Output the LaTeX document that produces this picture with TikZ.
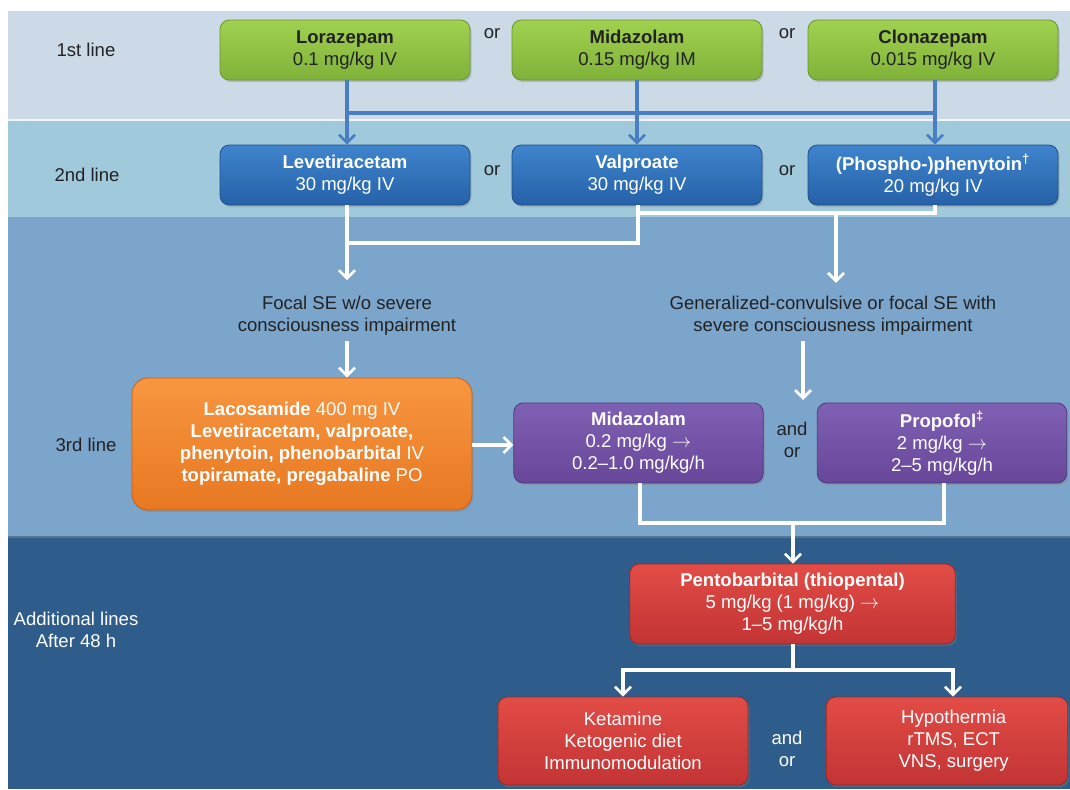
\documentclass[tikz,border=0pt]{standalone}
\usepackage{fontspec}
\setmainfont{Liberation Sans}
\usetikzlibrary{arrows.meta,shadows}
\definecolor{bandA}{HTML}{CCDAE8}
\definecolor{bandB}{HTML}{A0CADB}
\definecolor{bandC}{HTML}{7CA5CC}
\definecolor{bandD}{HTML}{2E5D8C}
\definecolor{gA}{HTML}{A2D150}
\definecolor{gB}{HTML}{7FB239}
\definecolor{gC}{HTML}{66962E}
\definecolor{bA}{HTML}{3E84CC}
\definecolor{bB}{HTML}{2661A8}
\definecolor{bC}{HTML}{1E4E88}
\definecolor{oA}{HTML}{F89640}
\definecolor{oB}{HTML}{E87822}
\definecolor{oC}{HTML}{C4621A}
\definecolor{pA}{HTML}{8060B2}
\definecolor{pB}{HTML}{68479A}
\definecolor{pC}{HTML}{50367C}
\definecolor{rA}{HTML}{E24C46}
\definecolor{rB}{HTML}{C23434}
\definecolor{rC}{HTML}{962828}
\definecolor{txt}{HTML}{222222}
\definecolor{bline}{HTML}{4A7EC2}
\begin{document}
\begin{tikzpicture}[x=0.75pt,y=-0.75pt,
  every node/.style={font=\fontsize{13.9}{16.5}\selectfont},
  box/.style={rounded corners=7pt, align=center, inner sep=0pt, draw, line width=0.6pt,
    drop shadow={opacity=0.35,shadow xshift=1.2pt,shadow yshift=-1.6pt}},
  gbox/.style={box, top color=gA, bottom color=gB, draw=gC, text=txt, minimum width=187.5pt, minimum height=45pt},
  bbox/.style={box, top color=bA, bottom color=bB, draw=bC, text=white, minimum width=187.5pt, minimum height=45pt},
  obox/.style={box, top color=oA, bottom color=oB, draw=oC, text=white, minimum width=255pt, minimum height=99pt, rounded corners=12pt},
  pbox/.style={box, top color=pA, bottom color=pB, draw=pC, text=white, minimum width=187pt, minimum height=60pt},
  rbox/.style={box, top color=rA, bottom color=rB, draw=rC, text=white, minimum height=58.5pt},
  lbl/.style={text=txt, align=center, inner sep=0pt},
  wlbl/.style={text=white, align=center, inner sep=0pt},
  bl/.style={draw=bline, line width=2.8pt},
  blarrow/.style={bl, -{Straight Barb[length=6pt,width=12pt,line width=2pt]}},
  wl/.style={draw=white, line width=2.5pt},
  warrow/.style={wl, -{Straight Barb[length=6pt,width=12pt,line width=2pt]}}
]
\useasboundingbox (0,0) rectangle (1070,789);
\fill[white] (0,0) rectangle (1070,789);
\fill[bandA] (8,11) rectangle (1070,120);
\fill[bandB] (8,120) rectangle (1070,217);
\fill[bandC] (8,217) rectangle (1070,537);
\fill[bandD] (8,537) rectangle (1070,789);
\draw[white!70!bandA, line width=0.8pt] (8,120) -- (1070,120);
\draw[bandB!80!black, line width=0.6pt] (8,217) -- (1070,217);
\draw[bandC!70!black, line width=0.8pt] (8,537) -- (1070,537);

% band labels
\node[lbl] (L1) at (86,50) {1st line};
\node[lbl] (L2) at (87,175) {2nd line};
\node[lbl] (L3) at (86,445) {3rd line};
\node[wlbl] (L4) at (76,630) {Additional lines\\After 48 h};

% first line
\node[gbox] (lor) at (345,50) {\textbf{Lorazepam}\\0.1 mg/kg IV};
\node[gbox] (mza) at (637,50) {\textbf{Midazolam}\\0.15 mg/kg IM};
\node[gbox] (clo) at (933,50) {\textbf{Clonazepam}\\0.015 mg/kg IV};
\node[lbl] (or1) at (492,34) {or};
\node[lbl] (or2) at (787,34) {or};

% second line
\node[bbox] (lev) at (345,175) {\textbf{Levetiracetam}\\30 mg/kg IV};
\node[bbox] (val) at (637,175) {\textbf{Valproate}\\30 mg/kg IV};
\node[bbox] (pho) at (933,175) {\textbf{(Phospho-)phenytoin\textsuperscript{†}}\\20 mg/kg IV};
\node[lbl] (or3) at (492,171) {or};
\node[lbl] (or4) at (787,171) {or};

% blue connectors
\coordinate (jA) at (347,113);
\coordinate (jB) at (935,113);
\draw[blarrow] (lor.south -| jA) -- (lev.north -| jA);
\draw[blarrow] (mza.south) -- (val.north);
\draw[blarrow] (clo.south -| jB) -- (pho.north -| jB);
\draw[bl] (jA) -- (jB);

% condition texts
\node[lbl, inner ysep=4pt] (focal) at (347,316) {Focal SE w/o severe\\consciousness impairment};
\node[lbl, inner ysep=4pt] (gen) at (833,316) {Generalized-convulsive or focal SE with\\severe consciousness impairment};

% white connectors from second line
\coordinate (jC) at (347,243);
\coordinate (jD) at (638,243);
\coordinate (jE) at (638,213);
\coordinate (jF) at (935,213);
\coordinate (jG) at (836,213);
\draw[warrow, shorten >=8pt] (lev.south -| jC) -- (focal.north -| jC);
\draw[wl] (val.south -| jD) -- (jD) -- (jC);
\draw[wl] (pho.south -| jF) -- (jF) -- (jE);
\draw[warrow, shorten >=6pt] (jG) -- (gen.north -| jG);

% third line
\node[obox] (oran) at (302,444) {\textbf{Lacosamide} 400 mg IV\\\textbf{Levetiracetam, valproate,}\\\textbf{phenytoin, phenobarbital} IV\\\textbf{topiramate, pregabaline} PO};
\node[pbox] (mzb) at (638.5,443) {\textbf{Midazolam}\\0.2 mg/kg $\rightarrow$\\0.2--1.0 mg/kg/h};
\node[pbox] (pro) at (942,443) {\textbf{Propofol\textsuperscript{‡}}\\2 mg/kg $\rightarrow$\\2--5 mg/kg/h};
\node[lbl] (ao1) at (792,440) {and\\or};

\draw[warrow] (focal.south -| jC) -- (oran.north -| jC);
\coordinate (jH) at (803,400);
\draw[warrow] (gen.south -| jH) -- (jH);
\draw[warrow] (oran.east |- 0,445) -- (mzb.west |- 0,445);

% additional lines
\node[rbox, minimum width=244pt, minimum height=60pt] (pen) at (792.5,604) {\textbf{Pentobarbital (thiopental)}\\5 mg/kg (1 mg/kg) $\rightarrow$\\1--5 mg/kg/h};
\node[rbox, minimum width=187.5pt, minimum height=66pt] (ket) at (623,741) {Ketamine\\Ketogenic diet\\Immunomodulation};
\node[rbox, minimum width=181pt, minimum height=66pt] (hyp) at (947,741) {\hspace*{10pt}Hypothermia\\\hspace*{10pt}rTMS, ECT\\\hspace*{10pt}VNS, surgery};
\node[wlbl] (ao2) at (787,749) {and\\or};

\coordinate (jI) at (640,523);
\coordinate (jJ) at (944,523);
\coordinate (jK) at (793,523);
\draw[wl] (mzb.south -| jI) -- (jI) -- (jJ) -- (pro.south -| jJ);
\draw[warrow] (jK) -- (pen.north -| jK);

\coordinate (jL) at (793,670);
\coordinate (jM) at (623,670);
\coordinate (jN) at (953,670);
\draw[wl] (pen.south -| jL) -- (jL);
\draw[warrow] (jL) -- (jM) -- (ket.north -| jM);
\draw[warrow] (jL) -- (jN) -- (hyp.north -| jN);
\end{tikzpicture}
\end{document}
